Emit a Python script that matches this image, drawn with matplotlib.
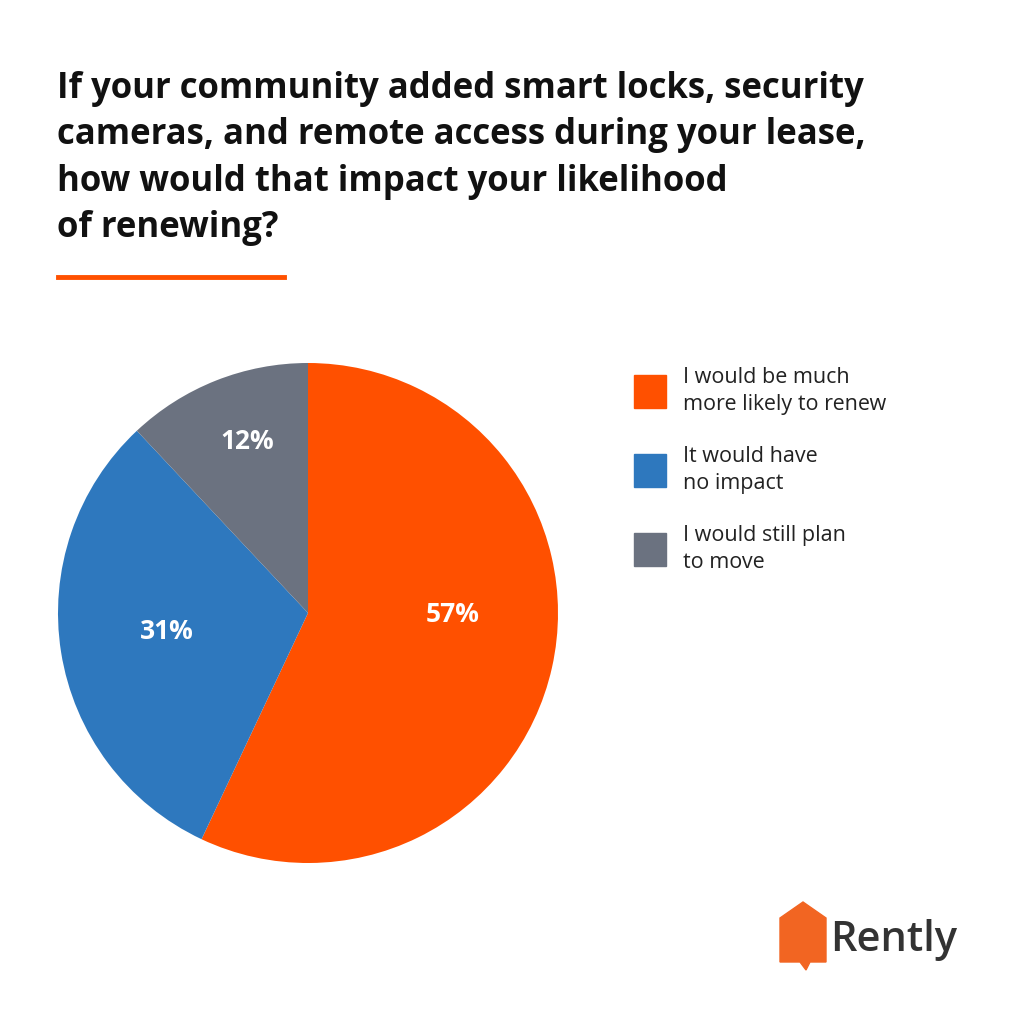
import numpy as np
import matplotlib.pyplot as plt
import matplotlib.patches as patches

labels = ["I would be much\nmore likely to renew", "It would have\nno impact", "I would still plan\nto move"]
values = [57, 31, 12]
colors = ["#FF5000", "#2E78BE", "#6B7280"]
title = ("If your community added smart locks, security\ncameras, and remote access during your lease,\n"
         "how would that impact your likelihood\nof renewing?")

# label placement inside wedges (distance from centre, angle shift in degrees)
pct_dist = [0.58, 0.57, 0.73]
pct_shift = [12, -1.5, -2]

fig = plt.figure(figsize=(10.24, 10.24), dpi=100)
fig.patch.set_facecolor("white")

W = 1024.0
def fx(x): return x / W
def fy(y): return 1 - y / W

fig.text(fx(57), fy(71), title, fontsize=25, fontweight="bold", family="Open Sans",
         va="top", ha="left", linespacing=1.38, color="#111111")
fig.add_artist(plt.Line2D([fx(58), fx(284)], [fy(277), fy(277)], color="#FF5000", lw=3.5))

ax = fig.add_axes([fx(58), fy(863), 500 / W, 500 / W])
wedges, _ = ax.pie(values, colors=colors, startangle=90, counterclock=False, radius=1)
ax.set_xlim(-1, 1)
ax.set_ylim(-1, 1)
ax.set_aspect("equal")
for w, v, d, s in zip(wedges, values, pct_dist, pct_shift):
    ang = np.deg2rad((w.theta1 + w.theta2) / 2 + s)
    ax.text(d * np.cos(ang), d * np.sin(ang), f"{v}%", color="white", fontsize=19,
            fontweight="bold", family="Open Sans", ha="center", va="center")

# legend
for i, lab in enumerate(labels):
    y = 375 + i * 79
    fig.add_artist(patches.Rectangle((fx(634), fy(y + 33)), 32 / W, 33 / W, color=colors[i],
                                     transform=fig.transFigure))
    fig.text(fx(683), fy(y - 8), lab, fontsize=15.5, family="Open Sans", va="top", ha="left",
             linespacing=1.4, color="#222222")

# logo
icon = patches.Polygon([(fx(780), fy(962)), (fx(780), fy(918)), (fx(803), fy(902)),
                        (fx(826), fy(918)), (fx(826), fy(962)), (fx(810), fy(962)),
                        (fx(806), fy(970)), (fx(800), fy(962))],
                       closed=True, color="#F26522", transform=fig.transFigure)
fig.add_artist(icon)
fig.text(fx(830), fy(940), "Rently", fontsize=30, family="Open Sans", color="#333333",
         va="center", ha="left", fontweight="semibold")

fig.savefig("out.png", dpi=100)
